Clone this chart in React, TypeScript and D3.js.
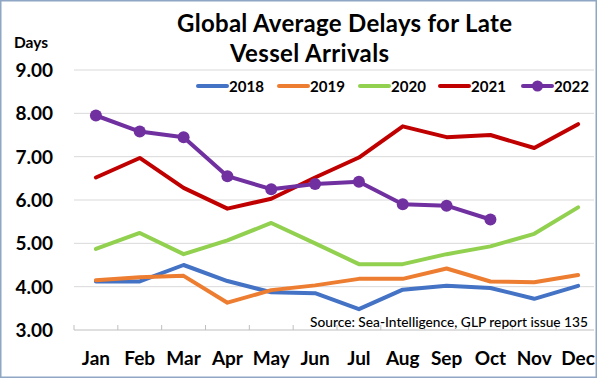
import React from "react";
import * as d3 from "d3";

const months = ["Jan", "Feb", "Mar", "Apr", "May", "Jun", "Jul", "Aug", "Sep", "Oct", "Nov", "Dec"];
const yTicks = [3, 4, 5, 6, 7, 8, 9];
const s2018 = [4.12, 4.12, 4.5, 4.13, 3.87, 3.85, 3.48, 3.93, 4.02, 3.97, 3.72, 4.02];
const s2019 = [4.15, 4.22, 4.25, 3.63, 3.92, 4.03, 4.18, 4.18, 4.42, 4.12, 4.1, 4.27];
const s2020 = [4.87, 5.24, 4.75, 5.07, 5.47, 5.0, 4.52, 4.52, 4.75, 4.93, 5.22, 5.83];
const s2021 = [6.52, 6.97, 6.28, 5.8, 6.03, 6.52, 6.98, 7.7, 7.45, 7.5, 7.2, 7.75];
const s2022 = [7.95, 7.58, 7.45, 6.55, 6.25, 6.37, 6.42, 5.9, 5.87, 5.55];

const seriesNames = ["2018", "2019", "2020", "2021", "2022"];
const seriesColors = ["#4472C4", "#ED7D31", "#92D050", "#C00000", "#7030A0"];
const seriesData = [s2018, s2019, s2020, s2021, s2022];

const FONT = "Lato, 'Open Sans', sans-serif";

export default function App() {
  const W = 600, H = 380;
  const x = d3.scaleBand<string>().domain(months).range([74, 600]);
  const y = d3.scaleLinear().domain([3, 9]).range([330, 70]);
  const cx = (i: number) => (x(months[i]) as number) + x.bandwidth() / 2;
  const line = d3.line<number>().x((_, i) => cx(i)).y((d) => y(d));

  const legendLineX = [198, 279, 360, 440, 523];

  return (
    <div style={{ position: "absolute", left: 0, top: 0 }}>
      <svg width={W} height={H} style={{ display: "block", background: "#fff" }}>
        <rect x={0.75} y={0.75} width={595.5} height={376.5} fill="#fff" stroke="#8FA6C4" strokeWidth={1.5} />
        <text x={177} y={32} fontFamily={FONT} fontWeight={700} fontSize={24} fill="#000" textLength={335} lengthAdjust="spacing">
          Global Average Delays for Late
        </text>
        <text x={230} y={62} fontFamily={FONT} fontWeight={700} fontSize={24} fill="#000" textLength={159} lengthAdjust="spacing">
          Vessel Arrivals
        </text>
        <text x={14} y={48} fontFamily={FONT} fontWeight={700} fontSize={15.5} fill="#000">Days</text>
        {yTicks.map((t) => (
          <g key={t}>
            {t > 3 && (
              <line x1={74} x2={594} y1={y(t)} y2={y(t)} stroke="#D9D9D9" strokeWidth={1} />
            )}
            <text x={53} y={y(t) + 7} textAnchor="end" fontFamily={FONT} fontWeight={700} fontSize={19} fill="#000">
              {t.toFixed(2)}
            </text>
          </g>
        ))}
        <line x1={74} x2={594} y1={y(3)} y2={y(3)} stroke="#BFBFBF" strokeWidth={1} />
        {months.map((m, i) => (
          <g key={m}>
            <line x1={x(m) as number} x2={x(m) as number} y1={y(3)} y2={y(3) - 5} stroke="#BFBFBF" strokeWidth={1} />
            <text x={cx(i)} y={365} textAnchor="middle" fontFamily={FONT} fontWeight={700} fontSize={19} fill="#000">
              {m}
            </text>
          </g>
        ))}
        {seriesData.map((s, k) => (
          <path key={k} d={line(s) || ""} fill="none" stroke={seriesColors[k]} strokeWidth={4} strokeLinejoin="round" strokeLinecap="round" />
        ))}
        {s2022.map((v, i) => (
          <circle key={i} cx={cx(i)} cy={y(v)} r={6} fill={seriesColors[4]} />
        ))}
        {seriesNames.map((n, k) => (
          <g key={n}>
            <line x1={legendLineX[k]} x2={legendLineX[k] + 29} y1={86} y2={86} stroke={seriesColors[k]} strokeWidth={4} strokeLinecap="round" />
            {k === 4 && <circle cx={legendLineX[k] + 14.5} cy={86} r={5.5} fill={seriesColors[k]} />}
            <text x={legendLineX[k] + 31} y={92} fontFamily={FONT} fontWeight={700} fontSize={16} fill="#000" textLength={35} lengthAdjust="spacingAndGlyphs">
              {n}
            </text>
          </g>
        ))}
        <text x={310} y={327} fontFamily={FONT} fontWeight={500} fontSize={14} fill="#000" textLength={278} lengthAdjust="spacingAndGlyphs">
          Source: Sea-Intelligence, GLP report issue 135
        </text>
      </svg>
    </div>
  );
}
